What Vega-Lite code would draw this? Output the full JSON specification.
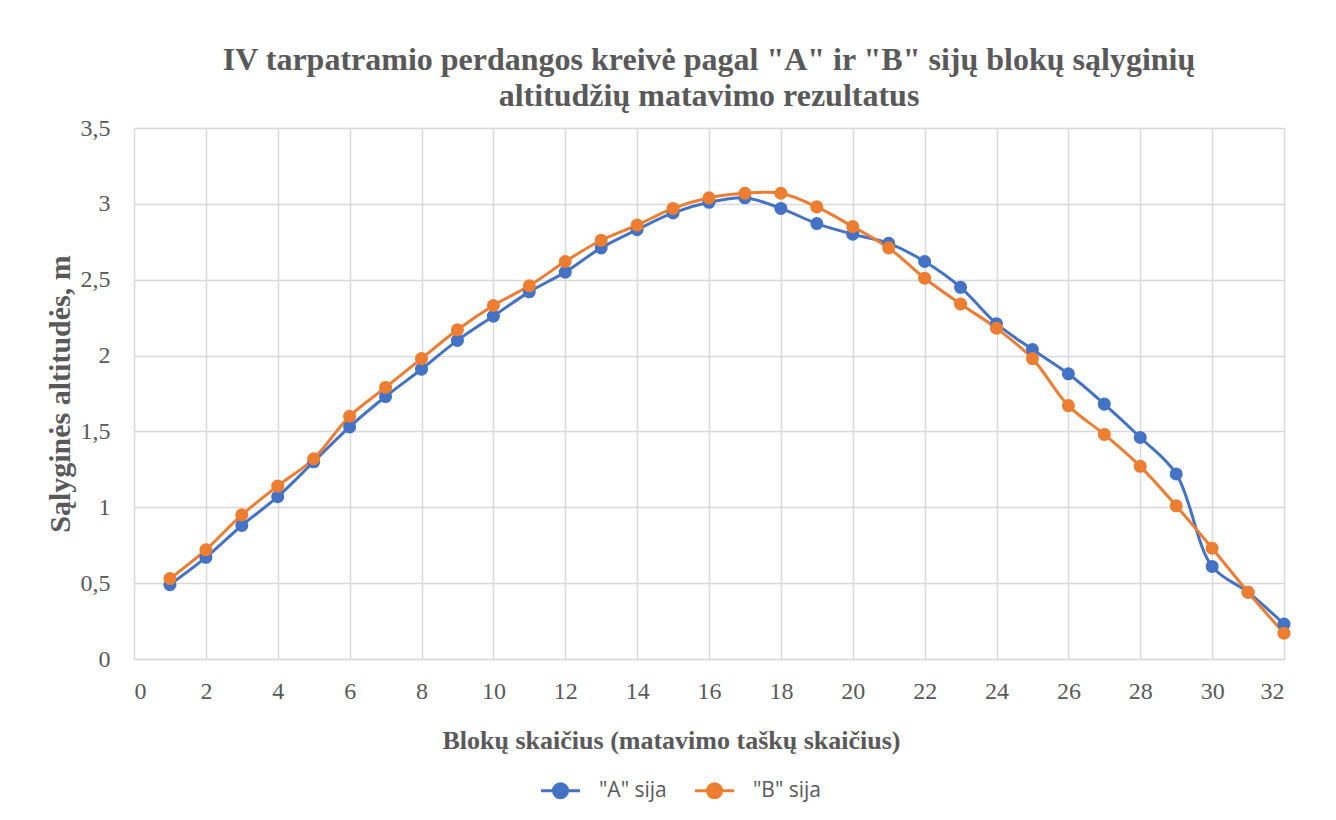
{
  "$schema": "https://vega.github.io/schema/vega-lite/v6.json",
  "autosize": {"type": "none"},
  "width": 1150,
  "height": 531,
  "padding": {"left": 134, "top": 128, "right": 52, "bottom": 161},
  "background": "white",
  "title": {
    "text": ["IV tarpatramio perdangos kreivė pagal \"A\" ir \"B\" sijų blokų sąlyginių", "altitudžių matavimo rezultatus"],
    "font": "Liberation Serif",
    "fontSize": 32,
    "fontWeight": "bold",
    "color": "#595959",
    "lineHeight": 36,
    "anchor": "middle",
    "offset": 3
  },
  "config": {
    "view": {"stroke": null},
    "axis": {
      "labelFont": "Liberation Serif",
      "labelFontSize": 24,
      "labelColor": "#595959",
      "titleFont": "Liberation Serif",
      "titleFontSize": 26,
      "titleFontWeight": "bold",
      "titleColor": "#595959",
      "gridColor": "#d9d9d9",
      "gridWidth": 1.5,
      "ticks": false,
      "domainColor": "#d9d9d9",
      "domainWidth": 1.5
    }
  },
  "data": {
    "values": [
      {"blok": 1, "alt": 0.49, "sija": "\"A\" sija"},
      {"blok": 2, "alt": 0.67, "sija": "\"A\" sija"},
      {"blok": 3, "alt": 0.88, "sija": "\"A\" sija"},
      {"blok": 4, "alt": 1.07, "sija": "\"A\" sija"},
      {"blok": 5, "alt": 1.3, "sija": "\"A\" sija"},
      {"blok": 6, "alt": 1.53, "sija": "\"A\" sija"},
      {"blok": 7, "alt": 1.73, "sija": "\"A\" sija"},
      {"blok": 8, "alt": 1.91, "sija": "\"A\" sija"},
      {"blok": 9, "alt": 2.1, "sija": "\"A\" sija"},
      {"blok": 10, "alt": 2.26, "sija": "\"A\" sija"},
      {"blok": 11, "alt": 2.42, "sija": "\"A\" sija"},
      {"blok": 12, "alt": 2.55, "sija": "\"A\" sija"},
      {"blok": 13, "alt": 2.71, "sija": "\"A\" sija"},
      {"blok": 14, "alt": 2.83, "sija": "\"A\" sija"},
      {"blok": 15, "alt": 2.94, "sija": "\"A\" sija"},
      {"blok": 16, "alt": 3.01, "sija": "\"A\" sija"},
      {"blok": 17, "alt": 3.04, "sija": "\"A\" sija"},
      {"blok": 18, "alt": 2.97, "sija": "\"A\" sija"},
      {"blok": 19, "alt": 2.87, "sija": "\"A\" sija"},
      {"blok": 20, "alt": 2.8, "sija": "\"A\" sija"},
      {"blok": 21, "alt": 2.74, "sija": "\"A\" sija"},
      {"blok": 22, "alt": 2.62, "sija": "\"A\" sija"},
      {"blok": 23, "alt": 2.45, "sija": "\"A\" sija"},
      {"blok": 24, "alt": 2.21, "sija": "\"A\" sija"},
      {"blok": 25, "alt": 2.04, "sija": "\"A\" sija"},
      {"blok": 26, "alt": 1.88, "sija": "\"A\" sija"},
      {"blok": 27, "alt": 1.68, "sija": "\"A\" sija"},
      {"blok": 28, "alt": 1.46, "sija": "\"A\" sija"},
      {"blok": 29, "alt": 1.22, "sija": "\"A\" sija"},
      {"blok": 30, "alt": 0.61, "sija": "\"A\" sija"},
      {"blok": 31, "alt": 0.44, "sija": "\"A\" sija"},
      {"blok": 32, "alt": 0.23, "sija": "\"A\" sija"},
      {"blok": 1, "alt": 0.53, "sija": "\"B\" sija"},
      {"blok": 2, "alt": 0.72, "sija": "\"B\" sija"},
      {"blok": 3, "alt": 0.95, "sija": "\"B\" sija"},
      {"blok": 4, "alt": 1.14, "sija": "\"B\" sija"},
      {"blok": 5, "alt": 1.32, "sija": "\"B\" sija"},
      {"blok": 6, "alt": 1.6, "sija": "\"B\" sija"},
      {"blok": 7, "alt": 1.79, "sija": "\"B\" sija"},
      {"blok": 8, "alt": 1.98, "sija": "\"B\" sija"},
      {"blok": 9, "alt": 2.17, "sija": "\"B\" sija"},
      {"blok": 10, "alt": 2.33, "sija": "\"B\" sija"},
      {"blok": 11, "alt": 2.46, "sija": "\"B\" sija"},
      {"blok": 12, "alt": 2.62, "sija": "\"B\" sija"},
      {"blok": 13, "alt": 2.76, "sija": "\"B\" sija"},
      {"blok": 14, "alt": 2.86, "sija": "\"B\" sija"},
      {"blok": 15, "alt": 2.97, "sija": "\"B\" sija"},
      {"blok": 16, "alt": 3.04, "sija": "\"B\" sija"},
      {"blok": 17, "alt": 3.07, "sija": "\"B\" sija"},
      {"blok": 18, "alt": 3.07, "sija": "\"B\" sija"},
      {"blok": 19, "alt": 2.98, "sija": "\"B\" sija"},
      {"blok": 20, "alt": 2.85, "sija": "\"B\" sija"},
      {"blok": 21, "alt": 2.71, "sija": "\"B\" sija"},
      {"blok": 22, "alt": 2.51, "sija": "\"B\" sija"},
      {"blok": 23, "alt": 2.34, "sija": "\"B\" sija"},
      {"blok": 24, "alt": 2.18, "sija": "\"B\" sija"},
      {"blok": 25, "alt": 1.98, "sija": "\"B\" sija"},
      {"blok": 26, "alt": 1.67, "sija": "\"B\" sija"},
      {"blok": 27, "alt": 1.48, "sija": "\"B\" sija"},
      {"blok": 28, "alt": 1.27, "sija": "\"B\" sija"},
      {"blok": 29, "alt": 1.01, "sija": "\"B\" sija"},
      {"blok": 30, "alt": 0.73, "sija": "\"B\" sija"},
      {"blok": 31, "alt": 0.44, "sija": "\"B\" sija"},
      {"blok": 32, "alt": 0.17, "sija": "\"B\" sija"}
    ]
  },
  "encoding": {
    "x": {
      "field": "blok",
      "type": "quantitative",
      "scale": {"domain": [0, 32], "nice": false},
      "axis": {
        "values": [0, 2, 4, 6, 8, 10, 12, 14, 16, 18, 20, 22, 24, 26, 28, 30, 32],
        "title": "Blokų skaičius (matavimo taškų skaičius)",
        "titleX": 537,
        "titleAlign": "center",
        "labelPadding": 20,
        "titlePadding": 24
      }
    },
    "y": {
      "field": "alt",
      "type": "quantitative",
      "scale": {"domain": [0, 3.5], "nice": false},
      "axis": {
        "values": [0, 0.5, 1, 1.5, 2, 2.5, 3, 3.5],
        "labelExpr": "replace(toString(datum.value), '.', ',')",
        "title": "Sąlyginės altitudės, m",
        "titleFontSize": 30,
        "labelPadding": 24,
        "titlePadding": 5,
        "domain": false
      }
    },
    "color": {
      "field": "sija",
      "type": "nominal",
      "scale": {"domain": ["\"A\" sija", "\"B\" sija"], "range": ["#4472C4", "#ED7D31"]},
      "legend": {
        "title": null,
        "orient": "none",
        "direction": "horizontal",
        "legendX": 410,
        "legendY": 646,
        "labelFont": "Open Sans",
        "labelFontSize": 21,
        "labelColor": "#595959",
        "symbolType": "M-1.3,0H1.3M-0.47,0A0.47,0.47 0 1,0 0.47,0A0.47,0.47 0 1,0 -0.47,0",
        "symbolSize": 900,
        "symbolStrokeWidth": 3,
        "columnPadding": 22,
        "labelOffset": 22
      }
    }
  },
  "layer": [
    {
      "mark": {"type": "line", "interpolate": "catmull-rom", "strokeWidth": 3}
    },
    {
      "mark": {"type": "point", "filled": true, "size": 170, "opacity": 1}
    }
  ]
}
